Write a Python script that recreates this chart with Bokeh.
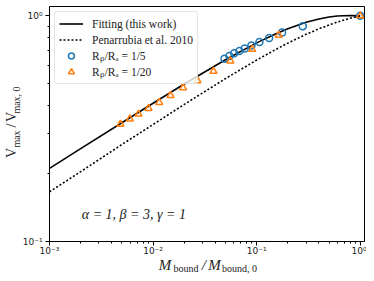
from bokeh.plotting import figure
from bokeh.models import (Range1d, FixedTicker, CustomJSTickFormatter, Label,
                          Legend, LegendItem, LinearAxis, LinearScale)
from bokeh.embed import file_html
from bokeh.resources import INLINE

# ---- data ----
fit_x = [0.001, 0.002, 0.005, 0.01, 0.02, 0.05, 0.1, 0.15, 0.2, 0.3, 0.4, 0.5, 0.6, 0.8, 1.0]
fit_y = [0.211, 0.258, 0.336, 0.410, 0.499, 0.639, 0.759, 0.829, 0.877, 0.936, 0.969, 0.988, 0.999, 1.004, 1.0]

pen_x = [0.001, 0.002, 0.005, 0.01, 0.02, 0.05, 0.1, 0.15, 0.2, 0.3, 0.4, 0.5, 0.6, 0.7, 0.8, 1.0]
pen_y = [0.166, 0.204, 0.269, 0.330, 0.405, 0.527, 0.637, 0.706, 0.757, 0.828, 0.876, 0.911, 0.938, 0.959, 0.976, 1.0]

rp5_x = [0.0489, 0.0546, 0.0607, 0.0682, 0.0767, 0.0891, 0.1064, 0.132, 0.176, 0.279, 1.0]
rp5_y = [0.646, 0.664, 0.683, 0.699, 0.716, 0.738, 0.766, 0.798, 0.843, 0.900, 1.0]

rp20_x = [0.00484, 0.00596, 0.00723, 0.00904, 0.01146, 0.01473, 0.01952, 0.02684, 0.0383, 0.0558, 0.0905, 0.1634, 1.0]
rp20_y = [0.331, 0.349, 0.367, 0.389, 0.4135, 0.444, 0.480, 0.516, 0.568, 0.631, 0.711, 0.821, 1.0]

x_major = [0.001, 0.01, 0.1, 1.0]
y_major = [0.1, 1.0]
legend_labels = ["Fitting (this work)", "Penarrubia et al. 2010",
                 "R\u209a/R\u2090 = 1/5", "R\u209a/R\u2090 = 1/20"]
annotation_text = "\u03b1 = 1, \u03b2 = 3, \u03b3 = 1"

# axis-title pieces (main letters and their subscripts)
xlab_main = ["M", "/", "M"]
xlab_sub = ["bound", "bound, 0"]
ylab_main = ["V", "/", "V"]
ylab_sub = ["max", "max, 0"]

SERIF = "Liberation Serif"
TXT = "#222222"

p = figure(width=366, height=276, x_axis_type="log", y_axis_type="log",
           x_range=Range1d(1e-3, 1.1), y_range=Range1d(0.1, 1.1),
           output_backend="svg", toolbar_location=None,
           min_border_left=49, min_border_right=2, min_border_top=6,
           min_border_bottom=35)
p.grid.visible = False
p.outline_line_color = "black"
p.outline_line_width = 1
p.outline_line_alpha = 1
p.background_fill_color = "white"
p.border_fill_color = "white"

x_minor = [m * 10.0 ** e for e in (-3, -2, -1) for m in range(2, 10)]
y_minor = [m * 0.1 for m in range(2, 10)]

fmt = CustomJSTickFormatter(code="""
const e = Math.round(Math.log10(tick));
const sup = {"-3": "\\u207b\\u00b3", "-2": "\\u207b\\u00b2", "-1": "\\u207b\\u00b9", "0": "\\u2070"};
return "10" + sup[String(e)];
""")

xax = p.xaxis[0]
yax = p.yaxis[0]
xax.ticker = FixedTicker(ticks=x_major, minor_ticks=x_minor)
yax.ticker = FixedTicker(ticks=y_major, minor_ticks=y_minor)
for ax in (xax, yax):
    ax.formatter = fmt
    ax.major_tick_in = 0
    ax.major_tick_out = 4
    ax.minor_tick_in = 0
    ax.minor_tick_out = 2
    ax.axis_line_color = "black"
    ax.major_tick_line_color = "black"
    ax.minor_tick_line_color = "black"
    ax.major_label_text_font = "DejaVu Sans"
    ax.major_label_text_font_size = "9px"
    ax.major_label_text_color = TXT
xax.major_label_standoff = 0
yax.major_label_standoff = 3

r_fit = p.line(fit_x, fit_y, line_color="black", line_width=1.6)
r_pen = p.line(pen_x, pen_y, line_color="black", line_width=1.6, line_dash="2 2")
r5 = p.scatter(rp5_x, rp5_y, marker="circle", size=7, fill_color=None,
               line_color="#1f77b4", line_width=1.5)
r20 = p.scatter(rp20_x, rp20_y, marker="triangle", size=7, fill_color=None,
                line_color="#ff7f0e", line_width=1.5)

legend = Legend(items=[LegendItem(label=legend_labels[0], renderers=[r_fit]),
                       LegendItem(label=legend_labels[1], renderers=[r_pen]),
                       LegendItem(label=legend_labels[2], renderers=[r5]),
                       LegendItem(label=legend_labels[3], renderers=[r20])],
                location="top_left")
legend.label_text_font = SERIF
legend.label_text_font_size = "11.5px"
legend.label_text_color = TXT
legend.glyph_width = 24
legend.glyph_height = 15
legend.label_height = 15
legend.label_standoff = 9
legend.padding = 4
legend.spacing = 1
legend.margin = 5
legend.border_line_color = "#cccccc"
legend.border_radius = 3
legend.background_fill_alpha = 0.8
p.add_layout(legend)

p.add_layout(Label(x=0.00205, y=0.1318, text=annotation_text,
                   text_font=SERIF, text_font_size="14px", text_font_style="italic",
                   text_color=TXT, text_baseline="alphabetic"))

# ---- axis titles: label-only axes stacked in the side panels ----
p.extra_x_ranges = {"lab": Range1d(0, 1)}
p.extra_y_ranges = {"lab": Range1d(0, 1)}
p.extra_x_scales = {"lab": LinearScale()}
p.extra_y_scales = {"lab": LinearScale()}

PICK = """
let b = 0;
for (let i = 0; i < pos.length; i++) {
  if (Math.abs(pos[i] - tick) < Math.abs(pos[b] - tick)) b = i;
}
return txt[b];
"""

def label_axis(kw, pos, txt, size, style, standoff, orient="horizontal"):
    return LinearAxis(**kw,
                      ticker=FixedTicker(ticks=pos, minor_ticks=[]),
                      formatter=CustomJSTickFormatter(args=dict(pos=pos, txt=txt), code=PICK),
                      axis_line_color=None, major_tick_line_color=None,
                      minor_tick_line_color=None, major_tick_in=0, major_tick_out=0,
                      minor_tick_in=0, minor_tick_out=0,
                      major_label_text_font=SERIF, major_label_text_font_size=size,
                      major_label_text_font_style=style, major_label_text_color=TXT,
                      major_label_standoff=standoff,
                      major_label_orientation=orient)

# x title: M_bound / M_bound,0  (main letters first, subscripts pulled back up)
p.add_layout(label_axis(dict(x_range_name="lab"), [0.3667, 0.4898, 0.5238], xlab_main,
                        "15px", "italic", -2), "below")
p.add_layout(label_axis(dict(x_range_name="lab"), [0.4333, 0.6032], xlab_sub,
                        "10px", "normal", -13), "below")

# y title: V_max / V_max,0
p.add_layout(label_axis(dict(y_range_name="lab"), [0.4362, 0.6021], ylab_sub,
                        "10px", "normal", -3, "vertical"), "left")
p.add_layout(label_axis(dict(y_range_name="lab"), [0.3766, 0.4936, 0.5298], ylab_main,
                        "14px", "normal", -11, "vertical"), "left")

open("out.html", "w", encoding="utf-8").write(file_html(p, INLINE))
